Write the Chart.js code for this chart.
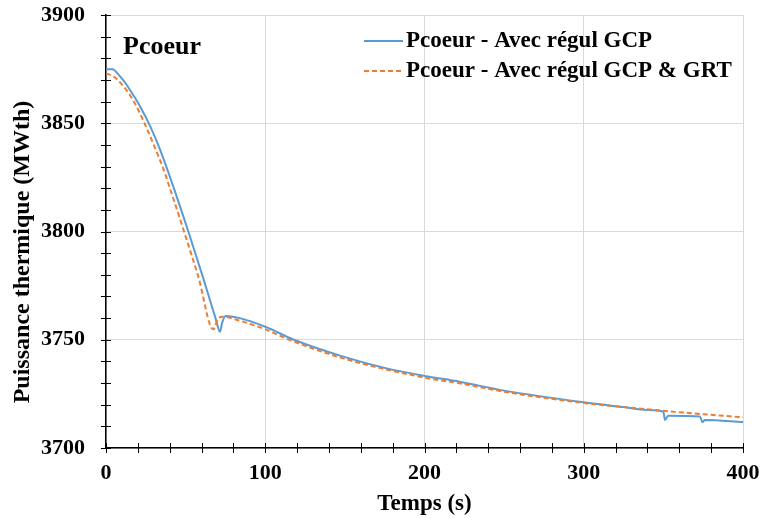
<!DOCTYPE html>
<html>
<head>
<meta charset="utf-8">
<script src="https://cdn.jsdelivr.net/npm/chart.js@4/dist/chart.umd.min.js"></script>
<style>
  body { margin: 0; background: #fff; }
  #myChart { display: block; }
</style>
</head>
<body>
<canvas id="myChart" width="761" height="518"></canvas>
<script>
// Pcoeur - Avec régul GCP
const timeGCP = [0, 4, 9, 15, 21, 28, 34, 42, 52, 61, 69, 71.5, 73, 75, 84, 100, 118, 149, 175, 200, 222, 250, 300, 325, 340, 350, 351, 353, 373, 374.5, 376, 400];
const powerGCP = [3875, 3875, 3871.5, 3865.5, 3858.3, 3848.2, 3837.7, 3821.3, 3799.3, 3778.6, 3759.4, 3753.7, 3758, 3761, 3760, 3756, 3750, 3742.2, 3737, 3733.3, 3730.6, 3726.5, 3721.1, 3718.9, 3717.6, 3716.8, 3712.9, 3714.9, 3714.5, 3711.9, 3712.9, 3712];

// Pcoeur - Avec régul GCP & GRT
const timeGRT = [0, 5, 11, 17, 24, 30, 36, 39, 49, 58, 67.4, 70.5, 73.5, 84, 100, 115, 149, 200, 222, 250, 300, 325, 350, 375, 400];
const powerGRT = [3873, 3871.5, 3867, 3860.7, 3850.3, 3840, 3829, 3822.5, 3800, 3779, 3754.8, 3759.9, 3760.6, 3758.8, 3754.8, 3750, 3741.4, 3732.5, 3729.9, 3726, 3720.8, 3718.9, 3717.2, 3715.6, 3714.2];

const seriesLabels = ['Pcoeur - Avec régul GCP', 'Pcoeur - Avec régul GCP & GRT'];
const xTicks = [0, 100, 200, 300, 400];
const yTicks = [3700, 3750, 3800, 3850, 3900];

const FONT = '"Liberation Serif", "Times New Roman", serif';

const toPoints = (xs, ys) => xs.map((x, i) => ({ x: x, y: ys[i] }));

// minor ticks crossing the axes, y title, legend and the "Pcoeur" label
const extrasPlugin = {
    id: 'extras',
    afterDraw(chart) {
        const ctx = chart.ctx;
        const xs = chart.scales.x, ys = chart.scales.y;
        const area = chart.chartArea;
        ctx.save();
        ctx.strokeStyle = '#000';
        ctx.lineWidth = 1;
        ctx.beginPath();
        for (let v = 0; v <= 400; v += 20) {
            const px = Math.round(xs.getPixelForValue(v)) + 0.5;
            ctx.moveTo(px, area.bottom - 5);
            ctx.lineTo(px, area.bottom + 5);
        }
        for (let v = 3700; v <= 3900; v += 10) {
            const py = Math.round(ys.getPixelForValue(v)) + 0.5;
            ctx.moveTo(area.left - 5, py);
            ctx.lineTo(area.left + 5, py);
        }
        ctx.stroke();

        ctx.fillStyle = '#000';

        // y axis title (sits a bit below the plot centre, as in the original)
        ctx.save();
        ctx.translate(23, 252);
        ctx.rotate(-Math.PI / 2);
        ctx.font = 'bold 24px ' + FONT;
        ctx.textAlign = 'center';
        ctx.textBaseline = 'middle';
        ctx.fillText('Puissance thermique (MWth)', 0, 0);
        ctx.restore();

        // series name in the corner
        ctx.font = 'bold 26px ' + FONT;
        ctx.textBaseline = 'alphabetic';
        ctx.textAlign = 'left';
        ctx.fillText('Pcoeur', 123, 54);

        // legend
        ctx.font = 'bold 23px ' + FONT;
        ctx.textBaseline = 'middle';
        chart.data.datasets.forEach((ds, i) => {
            const y = 41 + i * 30;
            ctx.beginPath();
            ctx.strokeStyle = ds.borderColor;
            ctx.lineWidth = 2;
            ctx.setLineDash(ds.borderDash || []);
            ctx.moveTo(364, y);
            ctx.lineTo(403, y);
            ctx.stroke();
            ctx.setLineDash([]);
            ctx.fillText(ds.label, 406, y);
        });
        ctx.restore();
    }
};

const noOverflow = s => {
    s.paddingTop = 0;
    s.paddingBottom = 0;
    s.paddingLeft = 0;
    s.paddingRight = 0;
};

var ctx = document.getElementById('myChart').getContext('2d');
var myChart = new Chart(ctx, {
    type: 'line',
    data: {
        datasets: [{
            label: seriesLabels[0],
            data: toPoints(timeGCP, powerGCP),
            borderColor: '#5B9BD5',
            borderWidth: 2,
            pointRadius: 0,
            cubicInterpolationMode: 'monotone',
            order: 2
        }, {
            label: seriesLabels[1],
            data: toPoints(timeGRT, powerGRT),
            borderColor: '#ED7D31',
            borderWidth: 2,
            borderDash: [5, 3],
            pointRadius: 0,
            cubicInterpolationMode: 'monotone',
            order: 1
        }]
    },
    options: {
        responsive: false,
        animation: false,
        layout: { padding: { top: 15, right: 18, left: 0, bottom: 0 } },
        plugins: {
            legend: { display: false },
            tooltip: { enabled: false }
        },
        scales: {
            x: {
                type: 'linear',
                min: 0,
                max: 400,
                afterFit: s => { s.height = 70; noOverflow(s); },
                afterBuildTicks: s => { s.ticks = xTicks.map(v => ({ value: v })); },
                grid: { color: '#d9d9d9', lineWidth: 1, drawTicks: false },
                border: { color: '#000', width: 1.5 },
                ticks: {
                    color: '#000', padding: 12, callback: v => String(v),
                    font: { family: FONT, size: 22, weight: 'bold' }
                },
                title: {
                    display: true,
                    text: 'Temps (s)',
                    color: '#000',
                    padding: { top: 0, bottom: 0 },
                    font: { family: FONT, size: 23, weight: 'bold' }
                }
            },
            y: {
                min: 3700,
                max: 3900,
                afterFit: s => { s.width = 106; noOverflow(s); },
                afterBuildTicks: s => { s.ticks = yTicks.map(v => ({ value: v })); },
                grid: { color: '#d9d9d9', lineWidth: 1, drawTicks: false },
                border: { color: '#000', width: 1.5 },
                ticks: {
                    color: '#000', padding: 21, callback: v => String(v),
                    font: { family: FONT, size: 22, weight: 'bold' }
                }
            }
        }
    },
    plugins: [extrasPlugin]
});
</script>
</body>
</html>
